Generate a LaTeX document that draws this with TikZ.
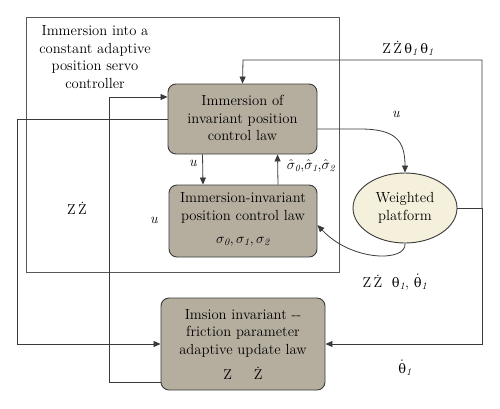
\documentclass[tikz,border=0pt]{standalone}
\usepackage{fontspec}
\usepackage{amsmath}
\newfontfamily\grk{DejaVu Serif}
\usetikzlibrary{arrows.meta,calc,shapes.geometric}
\definecolor{boxfill}{HTML}{B5AE9F}
\definecolor{elfill}{HTML}{F4F0DC}
\definecolor{edge}{HTML}{3A3A3A}
\newcommand\mytheta{{\grk\fontsize{13}{15}\selectfont θ}}
\newcommand\dt[1]{\ensuremath{\dot{\text{#1}}}}
\newcommand\thsub{\ensuremath{_{\text{\itshape 1}}}}
\tikzset{
  lawbox/.style={draw=edge, line width=0.9bp, fill=boxfill, rounded corners=8bp, align=center, inner sep=0pt},
  conn/.style={draw=edge, line width=0.8bp},
  arr/.style={conn, -{Triangle[length=7bp,width=6bp]}},
  lbl/.style={font=\fontsize{14.5}{17}\selectfont, inner sep=0pt},
  txt/.style={font=\fontsize{14.7}{17.5}\selectfont, align=center}
}
\begin{document}
\begin{tikzpicture}[x=1bp,y=-1bp]
\useasboundingbox (0,0) rectangle (500,408);
% outer frame
\draw[draw=edge!85, line width=0.8bp] (26,17) rectangle (339,272);
\node[txt] (title) at (95,57) {Immersion into a\\constant adaptive\\position servo\\controller};
% boxes
\node[lawbox, minimum width=149bp, minimum height=70bp] (b1) at (242.5,119) {};
\node[txt] (b1t) at (242.5,118) {Immersion of\\invariant position\\control law};
\node[lawbox, minimum width=148bp, minimum height=72bp] (b2) at (243,221) {};
\node[txt] (b2t) at (243,208) {Immersion-invariant\\position control law};
\node[lbl] (b2s) at (243,242) {$\sigma_{\mathit{0}},\sigma_{\mathit{1}},\sigma_{\mathit{2}}$};
\node[lawbox, minimum width=164bp, minimum height=92bp] (b3) at (243,344) {};
\node[txt] (b3t) at (243,333) {Imsion invariant -{}-\\friction parameter\\adaptive update law};
\node[lbl] (b3s) at (243,373) {Z\hspace{22bp}Ż};
\node[ellipse, draw=edge, line width=0.9bp, fill=elfill, minimum width=104bp, minimum height=70bp, inner sep=0pt, align=center, font=\fontsize{14.7}{17.5}\selectfont] (el) at (405,208) {Weighted\\platform};
% connectors
\coordinate (R) at (482,208);
\coordinate (TR) at (482,60);
\coordinate (TL) at (243,60);
\draw[conn] (el.east) -- (R);
\draw[arr] (R) -- (TR) -- (TL) -- (b1.north);
\draw[arr] (R) |- (b3.east);
\draw[arr] ($(b1.east)+(0,10)$) -- (360,129) .. controls (395,129) and (405,140) .. (el.north);
\draw[arr] (el.south) .. controls (407,262) and (352,262) .. ($(b2.east)+(0,4)$);
\draw[arr] ($(b1.south)+(-40,0)$) -- ($(b2.north)+(-40,0)$);
\draw[arr] ($(b2.north)+(35,0)$) -- ($(b1.south)+(35,0)$);
\coordinate (L1) at (17,119);
\draw[arr] (b1.west) -- (L1) |- (b3.west);
\coordinate (L2) at (109,382);
\draw[arr] ($(b3.west)+(0,38)$) -- (L2) |- ($(b1.west)+(0,-22)$);
% labels
\node[lbl] (l1) at (408,48) {Z\,Ż\,\mytheta\thsub\,\mytheta\thsub};
\node[lbl] (l2) at (396,114) {\textit{u}};
\node[lbl, font=\fontsize{13.5}{15}\selectfont] (l3) at (311,166) {$\hat{\sigma}_{\mathit{0}},\!\hat{\sigma}_{\mathit{1}},\!\hat{\sigma}_{\mathit{2}}$};
\node[lbl] (l4) at (193,163) {\textit{u}};
\node[lbl] (l5) at (77,208) {Z\,Ż};
\node[lbl] (l6) at (154,220) {\textit{u}};
\node[lbl] (l7) at (395,282) {Z\,Ż\ \ \mytheta\thsub,\ \dt{\mytheta}\thsub};
\node[lbl] (l8) at (405,368) {\dt{\mytheta}\thsub};
\end{tikzpicture}
\end{document}
